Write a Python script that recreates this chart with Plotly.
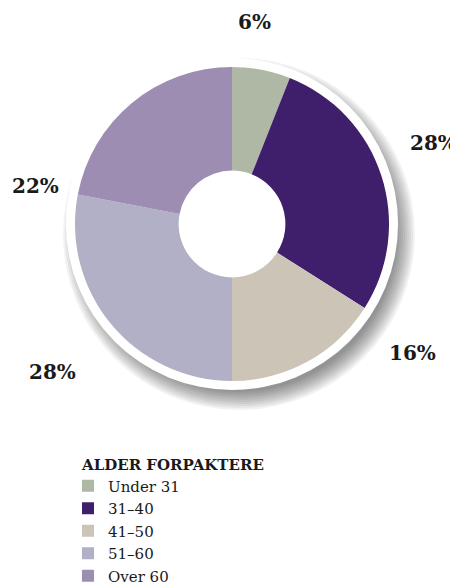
import math
import plotly.graph_objects as go

# ---- data ----
categories = ["Under 31", "31–40", "41–50", "51–60", "Over 60"]
shares = [6, 28, 16, 28, 22]
colors = ["#afb8a5", "#3f1f6b", "#cbc4b7", "#b2b0c6", "#9e8db3"]
legend_title = "ALDER FORPAKTERE"

# ---- layout constants ----
PAGE_OFF = 8               # default page margin around the plot div
W, H = 458 - PAGE_OFF, 585 - PAGE_OFF
CX, CY = 232, 224          # pie centre (window px)
R_PIE = 157                # coloured pie radius (px)
R_RING = 166               # white ring radius (px)
HOLE = 0.34
# label placement around the pie: (angle clockwise from 12 o'clock, distance px)
label_polar = [(6.5, 203), (68, 217), (125.5, 222), (230.5, 232), (281, 200)]
LEG_X, LEG_TOP = 80, 450   # legend top-left (window px)

SERIF = "DejaVu Serif, Liberation Serif, serif"


def fx(px):
    return (px - PAGE_OFF) / W


def fy(py):
    return 1 - (py - PAGE_OFF) / H


def domain(cx, cy, r):
    return dict(x=[fx(cx - r), fx(cx + r)], y=[fy(cy + r), fy(cy - r)])


fig = go.Figure()

# soft drop shadow (stack of translucent discs), offset to lower right
SX, SY = CX + 7, CY + 10
for r in range(176, 156, -2):
    fig.add_trace(go.Pie(values=[1], labels=["s%d" % r], sort=False,
                         marker=dict(colors=["rgba(0,0,0,0.05)"], line=dict(width=0)),
                         textinfo="none", hoverinfo="skip", showlegend=False,
                         domain=domain(SX, SY, r)))

# white ring
fig.add_trace(go.Pie(values=[1], labels=["ring"], sort=False,
                     marker=dict(colors=["#ffffff"], line=dict(width=0)),
                     textinfo="none", hoverinfo="skip", showlegend=False,
                     domain=domain(CX, CY, R_RING)))

# data donut
fig.add_trace(go.Pie(values=shares, labels=categories, sort=False,
                     direction="clockwise", rotation=0, hole=HOLE,
                     marker=dict(colors=colors, line=dict(width=0)),
                     textinfo="none", hoverinfo="label+percent",
                     showlegend=True, domain=domain(CX, CY, R_PIE)))

# percentage labels
for v, (ang, dist) in zip(shares, label_polar):
    a = math.radians(ang)
    px = CX + dist * math.sin(a)
    py = CY - dist * math.cos(a)
    fig.add_annotation(x=fx(px), y=fy(py), xref="paper", yref="paper",
                       text="<b>%d%%</b>" % v, showarrow=False,
                       xanchor="center", yanchor="middle",
                       font=dict(family=SERIF, size=20, color="#1a1a1a"))

fig.update_layout(
    width=W, height=H,
    margin=dict(l=0, r=0, t=0, b=0, autoexpand=False),
    paper_bgcolor="white", plot_bgcolor="white",
    showlegend=True,
    legend=dict(
        title=dict(text="<b>%s</b>" % legend_title,
                   font=dict(family=SERIF, size=15, color="#1a1a1a")),
        font=dict(family=SERIF, size=15, color="#1a1a1a"),
        x=fx(LEG_X), xanchor="left",
        y=fy(LEG_TOP), yanchor="top",
        itemwidth=30, indentation=-12, bgcolor="rgba(0,0,0,0)",
        traceorder="normal",
    ),
)

fig.write_html("out.html")
